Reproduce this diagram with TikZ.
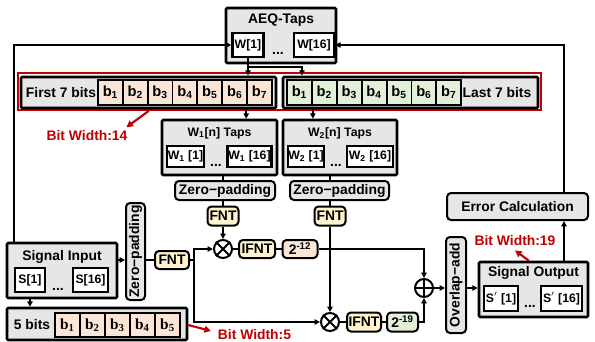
\documentclass[tikz,border=0pt]{standalone}
\usepackage{fontspec}
\setmainfont{Liberation Sans}
\newfontfamily\serifbits{Liberation Serif}
\usetikzlibrary{arrows.meta}
\newcommand{\pxu}{0.75pt}
\definecolor{boxgray}{HTML}{E6E6E6}
\definecolor{peach}{HTML}{FBE5D6}
\definecolor{mint}{HTML}{E2F0D9}
\definecolor{cream}{HTML}{FFF2CC}
\definecolor{darkred}{HTML}{C00000}

\begin{document}
\begin{tikzpicture}[x=0.75pt,y=-0.75pt,
  font=\fontsize{10.4}{12}\selectfont\bfseries,
  box/.style={draw,line width=1.9pt,fill=boxgray,inner sep=0pt,rounded corners=0.8pt},
  subbox/.style={draw,line width=1.8pt,fill=white,inner sep=0pt,font=\fontsize{9.2}{10}\selectfont\bfseries},
  rbox/.style={draw,line width=1.5pt,rounded corners=3pt,inner sep=0pt},
  proc/.style={rbox,fill=cream,minimum height=19*\pxu},
  cell/.style={draw,line width=1.4pt,inner sep=0pt,minimum width=24.9*\pxu,minimum height=25*\pxu,font=\fontsize{11}{12}\selectfont\bfseries},
  opnode/.style={draw,circle,line width=1.5pt,fill=white,inner sep=0pt,minimum size=18*\pxu},
  wire/.style={line width=1.3pt},
  arr/.style={line width=1.3pt,-{Triangle[length=4pt,width=4pt]}},
  redarr/.style={draw=darkred,line width=1.6pt,-{Triangle[length=5pt,width=5pt]}},
  redtext/.style={text=darkred,inner sep=0pt}]
\useasboundingbox (0,0) rectangle (595,342);

% AEQ taps
\node[box,minimum width=110*\pxu,minimum height=55*\pxu] (aeq) at (281,35.5) {};
\node (aeqt) at (281,20) {AEQ-Taps};
\node[subbox,minimum width=31*\pxu,minimum height=24*\pxu] (w1) at (248,45) {W[1]};
\node[subbox,minimum width=40*\pxu,minimum height=24*\pxu] (w16) at (314,45) {W[16]};
\node (aeqd) at (278,53) {...};

% bit split
\node[draw=darkred,line width=1.4pt,minimum width=523*\pxu,minimum height=37*\pxu,inner sep=0pt] (redbox) at (279.5,91.5) {};
\node[box,minimum width=255*\pxu,minimum height=31*\pxu] (first) at (148.5,92.5) {};
\node (firstt) at (61,92.5) {First 7 bits};
\foreach \i in {1,...,7}
  \node[cell,fill=peach] (a\i) at ({98+24.86*(\i-0.5)},92.5) {b\textsubscript{\i}};
\node[box,minimum width=255*\pxu,minimum height=31*\pxu] (last) at (410.5,92.5) {};
\node (lastt) at (497,92.5) {Last 7 bits};
\foreach \i in {1,...,7}
  \node[cell,fill=mint] (g\i) at ({287+24.9*(\i-0.5)},92.5) {b\textsubscript{\i}};
\node[redtext] (bw14) at (87,136) {Bit Width:14};

% W1 / W2 taps
\node[box,minimum width=115*\pxu,minimum height=55*\pxu] (w1taps) at (219.5,147.5) {};
\node[font=\fontsize{9.2}{10}\selectfont\bfseries] (w1tapst) at (219.5,133) {W\textsubscript{1}[n] Taps};
\node[subbox,minimum width=37*\pxu,minimum height=21*\pxu] (w11) at (185.5,156.5) {W\textsubscript{1} [1]};
\node[subbox,minimum width=44*\pxu,minimum height=21*\pxu] (w116) at (249.5,156.5) {W\textsubscript{1} [16]};
\node (w1d) at (216,165) {...};
\node[box,minimum width=114*\pxu,minimum height=55*\pxu] (w2taps) at (340,147.5) {};
\node[font=\fontsize{9.2}{10}\selectfont\bfseries] (w2tapst) at (340,133) {W\textsubscript{2}[n] Taps};
\node[subbox,minimum width=36*\pxu,minimum height=21*\pxu] (w21) at (306,156.5) {W\textsubscript{2} [1]};
\node[subbox,minimum width=46*\pxu,minimum height=21*\pxu] (w216) at (370,156.5) {W\textsubscript{2} [16]};
\node (w2d) at (336,165) {...};

\node[rbox,fill=boxgray,minimum width=100*\pxu,minimum height=19*\pxu] (zp1) at (225,190.5) {Zero−padding};
\node[rbox,fill=boxgray,minimum width=99*\pxu,minimum height=19*\pxu] (zp2) at (339.5,190.5) {Zero−padding};
\node[proc,minimum width=31*\pxu] (fnt1) at (223,216) {FNT};
\node[proc,minimum width=31*\pxu] (fnt2) at (330,216) {FNT};

% products
\node[opnode] (mul1) at (223,249) {};
\draw[line width=1.5pt] (mul1.north west) -- (mul1.south east) (mul1.north east) -- (mul1.south west);
\node[proc,minimum width=36*\pxu,minimum height=18*\pxu] (ifnt1) at (257,249) {IFNT};
\node[rbox,fill=peach,minimum width=35*\pxu,minimum height=18*\pxu] (p12) at (300,249) {2\textsuperscript{-12}};
\node[opnode] (mul2) at (330,322) {};
\draw[line width=1.5pt] (mul2.north west) -- (mul2.south east) (mul2.north east) -- (mul2.south west);
\node[proc,minimum width=34*\pxu] (ifnt2) at (364,322) {IFNT};
\node[rbox,fill=mint,minimum width=31*\pxu,minimum height=19*\pxu] (p19) at (402.5,322) {2\textsuperscript{-19}};
\node[opnode] (add) at (424,288) {};
\draw[line width=1.5pt] (add.north) -- (add.south) (add.west) -- (add.east);

% output side
\node[rbox,fill=boxgray,rotate=90,minimum width=96*\pxu,minimum height=20*\pxu] (ova) at (456,285) {Overlap−add};
\node[box,minimum width=109*\pxu,minimum height=55*\pxu] (so) at (533.5,289.5) {};
\node (sot) at (533.5,273) {Signal Output};
\node[subbox,minimum width=34*\pxu,minimum height=25*\pxu] (s1) at (501,298.5) {S$^{\prime}$ [1]};
\node[subbox,minimum width=41*\pxu,minimum height=25*\pxu] (s16) at (561.5,298.5) {S$^{\prime}$ [16]};
\node (sod) at (530,306) {...};
\node[rbox,fill=boxgray,minimum width=141*\pxu,minimum height=27*\pxu] (err) at (517.5,206.5) {Error Calculation};
\node[redtext] (bw19) at (515,241) {Bit Width:19};
\coordinate (rx) at (564,48);

% input side
\node[box,minimum width=110*\pxu,minimum height=55*\pxu] (si) at (62,270.5) {};
\node (sit) at (62,257) {Signal Input};
\node[subbox,minimum width=30*\pxu,minimum height=24*\pxu] (ss1) at (30,280) {S[1]};
\node[subbox,minimum width=35*\pxu,minimum height=24*\pxu] (ss16) at (90.5,280) {S[16]};
\node (sid) at (58,289) {...};
\node[rbox,fill=boxgray,rotate=90,minimum width=97*\pxu,minimum height=19*\pxu] (zp3) at (135.5,251.5) {Zero−padding};
\node[proc,minimum width=34*\pxu,minimum height=18*\pxu] (fnt3) at (172,260) {FNT};
\node[box,minimum width=180*\pxu,minimum height=32*\pxu] (fb) at (97,324) {};
\node (fbt) at (32,325) {5 bits};
\foreach \i in {1,...,5}
  \node[cell,fill=peach,minimum height=24*\pxu,font=\fontsize{11.5}{12}\selectfont\serifbits\bfseries] (c\i) at ({55+25*(\i-0.5)},325) {b\textsubscript{\i}};
\node[redtext] (bw5) at (254.5,335) {Bit Width:5};

% connectors
\draw[arr] ([xshift=6pt]si.north west) |- (w1.west);
\draw[arr] (err.north -| rx) |- (w16.east);
\draw[arr] (w1.south) -- (w1.south |- first.north);
\coordinate (split) at (302,67);
\draw[arr] (w1.south) |- (split) -- (split |- last.north);
\draw[arr] (a7.west |- first.south) -- (a7.west |- w1taps.north);
\draw[arr] (g1.east |- last.south) -- (g1.east |- w2taps.north);
\draw[wire] (fnt1 |- w1taps.south) -- (fnt1 |- zp1.north) (fnt1 |- zp1.south) -- (fnt1.north);
\draw[wire] (fnt2 |- w2taps.south) -- (fnt2 |- zp2.north) (fnt2 |- zp2.south) -- (fnt2.north);
\draw[arr] (fnt1.south) -- (mul1.north);
\draw[arr] (fnt2.south) -- (mul2.north);
\draw[arr] (si.east |- fnt3) -- (zp3.north |- fnt3);
\draw[wire] (zp3.south |- fnt3) -- (fnt3.west);
\draw[arr] (fnt3.east) -- ++(3pt,0) |- (mul1.west);
\draw[arr] (fnt3.east) -- ++(3pt,0) |- (mul2.west);
\draw[wire] (mul1.east) -- (ifnt1.west) (ifnt1.east) -- (p12.west);
\draw[wire] (mul2.east) -- (ifnt2.west) (ifnt2.east) -- (p19.west);
\draw[arr] (p12.east) -| (add.north);
\draw[arr] (p19.east) -| (add.south);
\draw[arr] (add.east) -- (ova.north |- add);
\draw[arr] (ova.south |- add) -- (so.west |- add);
\draw[arr] (so.north -| rx) -- (err.south -| rx);
\draw[arr] (ss1.south |- si.south) -- (ss1.south |- fb.north);

% bit widths
\draw[redarr] (a2.east |- redbox.south) -- ([xshift=-1pt,yshift=2.5pt]bw14.north east);
\draw[redarr] (fb.east |- c5) -- ([xshift=-5pt,yshift=-1pt]bw5.north west);
\draw[redarr] ([xshift=-3.5pt]so.north) -- ([yshift=-3pt]bw19.south);
\end{tikzpicture}
\end{document}
